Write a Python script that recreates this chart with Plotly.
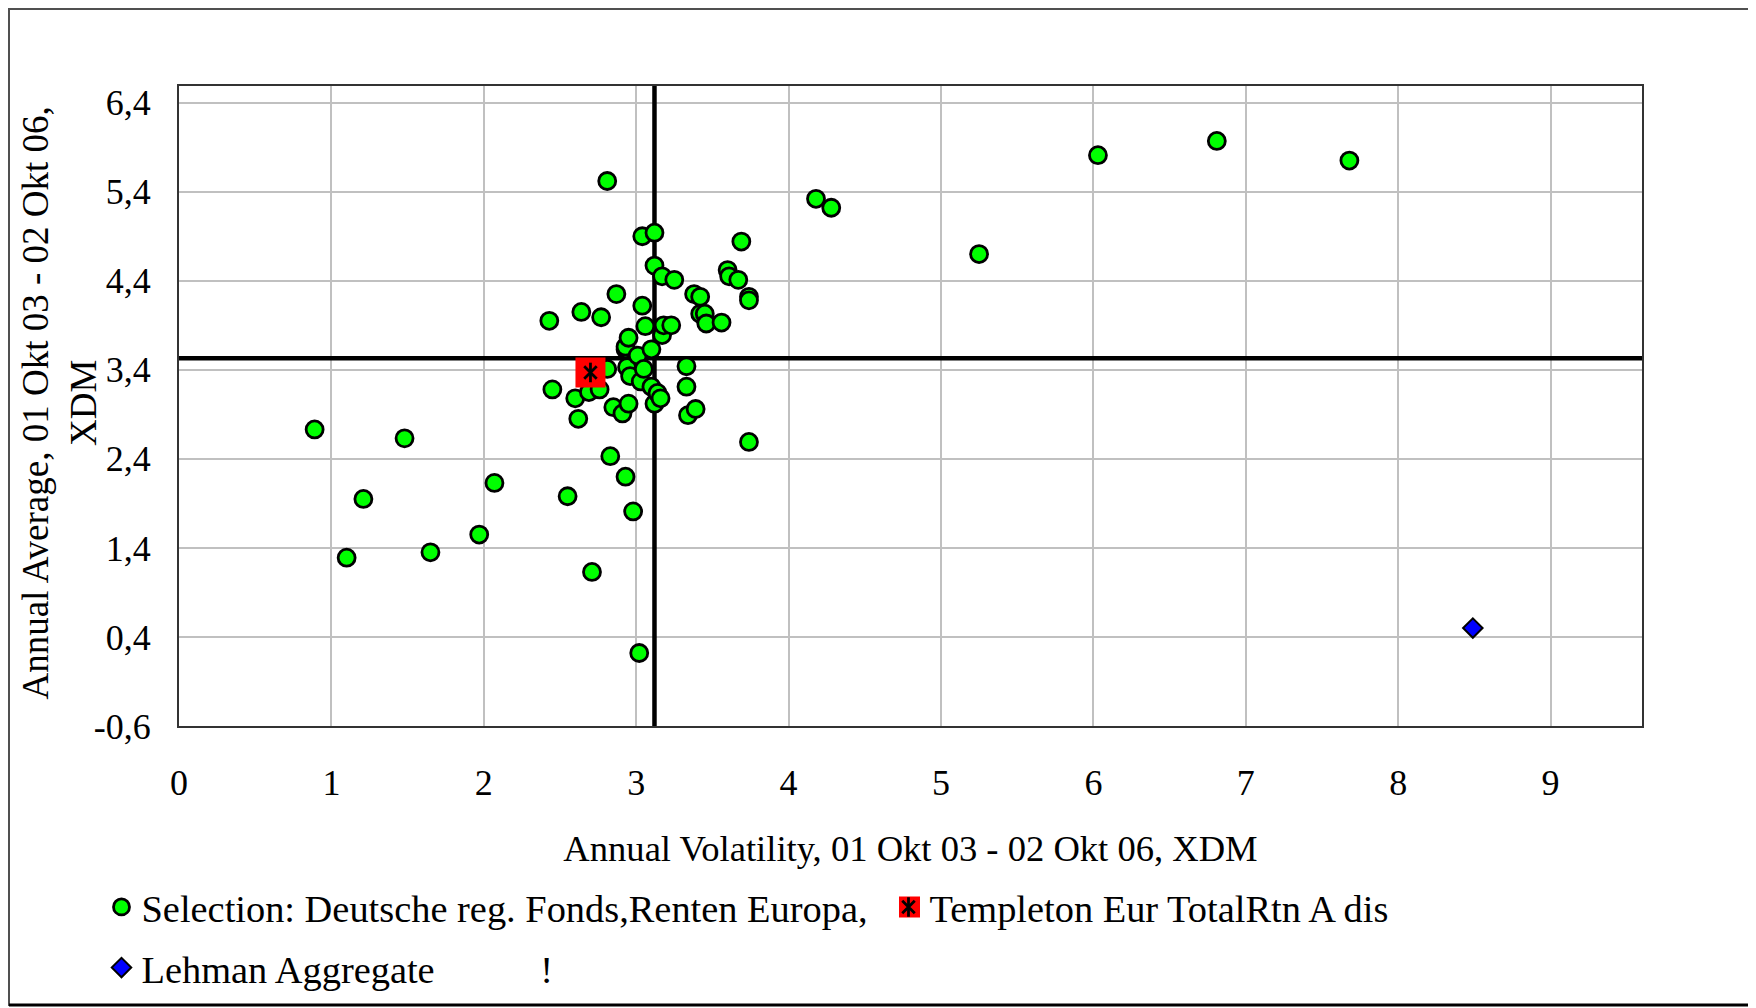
import plotly.graph_objects as go

# ---------------- data ----------------
sel_vol = [0.89, 1.10, 1.21, 1.48, 1.65, 1.97, 2.07, 2.43, 2.45, 2.55,
           2.60, 2.62, 2.64, 2.69, 2.71, 2.76, 2.77, 2.81, 2.81, 2.83,
           2.85, 2.87, 2.91, 2.93, 2.93, 2.93, 2.95, 2.94, 2.95, 2.96,
           2.98, 3.01, 3.02, 3.03, 3.04, 3.04, 3.05, 3.06, 3.10, 3.10,
           3.12, 3.12, 3.12, 3.14, 3.16, 3.17, 3.17, 3.18, 3.23, 3.25,
           3.33, 3.33, 3.34, 3.39, 3.38, 3.42, 3.42, 3.45, 3.46, 3.56,
           3.60, 3.61, 3.67, 3.69, 3.74, 3.74, 3.74, 4.18, 4.28, 5.25,
           6.03, 6.81, 7.68]
sel_avg = [2.73, 1.29, 1.95, 2.63, 1.35, 1.55, 2.13, 3.95, 3.18, 1.98,
           3.08, 2.85, 4.05, 3.15, 1.13, 3.18, 3.99, 3.41, 5.52, 2.43,
           2.98, 4.25, 2.91, 2.20, 3.63, 3.66, 3.76, 3.43, 3.02, 3.33,
           1.81, 3.56, 0.22, 3.27, 4.12, 4.90, 3.41, 3.89, 3.63, 3.21,
           3.02, 4.57, 4.94, 3.14, 3.08, 3.79, 4.45, 3.90, 3.90, 4.41,
           3.44, 3.21, 2.89, 2.96, 4.25, 4.22, 4.03, 4.03, 3.92, 3.93,
           4.52, 4.45, 4.41, 4.84, 4.22, 4.18, 2.59, 5.32, 5.22, 4.70,
           5.81, 5.97, 5.75]

templeton_vol = [2.70]
templeton_avg = [3.37]

lehman_vol = [8.49]
lehman_avg = [0.50]

avg_vol_line = 3.12
avg_ret_line = 3.53

x_range = [0, 9.6]
y_range = [-0.6, 6.587]

x_tickvals = [0, 1, 2, 3, 4, 5, 6, 7, 8, 9]
x_ticktext = ["0", "1", "2", "3", "4", "5", "6", "7", "8", "9"]
y_tickvals = [-0.6, 0.4, 1.4, 2.4, 3.4, 4.4, 5.4, 6.4]
y_ticktext = ["-0,6", "0,4", "1,4", "2,4", "3,4", "4,4", "5,4", "6,4"]

series_names = [
    "Selection: Deutsche reg. Fonds,Renten Europa,",
    "Templeton Eur TotalRtn A dis",
    "Lehman Aggregate" + "\u00a0" * 11 + "!",
]
x_title = "Annual Volatility, 01 Okt 03 - 02 Okt 06, XDM"
y_title = "Annual Average, 01 Okt 03 - 02 Okt 06,<br>XDM"

# ---------------- figure ----------------
FONT = "Liberation Serif, Times New Roman, serif"
FS = 36
LEG_FS = 38.4

W, H = 1756, 1008
ML, MT = 171, 78
PW, PH = 1463, 640
MR, MB = W - ML - PW, H - MT - PH


def px_x(Xf):
    return (Xf - ML) / PW


def px_y(Yf):
    return (MT + PH - Yf) / PH


fig = go.Figure()

# average reference lines (drawn first so markers sit on top)
fig.add_trace(go.Scatter(
    x=x_range, y=[avg_ret_line, avg_ret_line], mode="lines", showlegend=False,
    hoverinfo="skip", line=dict(color="#000000", width=4.5),
))
fig.add_trace(go.Scatter(
    x=[avg_vol_line, avg_vol_line], y=y_range, mode="lines", showlegend=False,
    hoverinfo="skip", line=dict(color="#000000", width=4.5),
))

fig.add_trace(go.Scatter(
    x=sel_vol, y=sel_avg, mode="markers", name=series_names[0], legend="legend",
    marker=dict(symbol="circle", size=17, color="#00FF00",
                line=dict(color="#000000", width=2.8)),
))
fig.add_trace(go.Scatter(
    x=templeton_vol, y=templeton_avg, mode="markers", name=series_names[1],
    legend="legend",
    marker=dict(symbol="square", size=25, color="#FF0000",
                line=dict(color="#FF0000", width=5)),
))
# asterisk drawn on the Templeton square (two strokes: vertical + X)
fig.add_trace(go.Scatter(
    x=templeton_vol, y=templeton_avg, mode="markers", name="",
    legend="legend3", hoverinfo="skip",
    marker=dict(symbol="line-ns-open", size=14, color="#000000",
                line=dict(color="#000000", width=2.8)),
))
fig.add_trace(go.Scatter(
    x=templeton_vol, y=templeton_avg, mode="markers", name="",
    legend="legend4", hoverinfo="skip",
    marker=dict(symbol="x-thin-open", size=12.5, color="#000000",
                line=dict(color="#000000", width=2.8)),
))
fig.add_trace(go.Scatter(
    x=lehman_vol, y=lehman_avg, mode="markers", name=series_names[2],
    legend="legend2",
    marker=dict(symbol="diamond", size=15, color="#0000FF",
                line=dict(color="#000000", width=2)),
))

# outer chart border
fig.add_shape(type="rect", xref="paper", yref="paper",
              x0=px_x(1), x1=px_x(1741), y0=px_y(997), y1=px_y(1),
              line=dict(color="#505050", width=2), layer="above")
fig.add_shape(type="line", xref="paper", yref="paper",
              x0=px_x(1), x1=px_x(1741), y0=px_y(997), y1=px_y(997),
              line=dict(color="#000000", width=3), layer="above")

# y axis title (two centred lines, rotated)
fig.add_annotation(
    text=y_title, xref="paper", yref="paper",
    x=px_x(50.5), y=px_y(395), xanchor="center", yanchor="middle",
    textangle=-90, showarrow=False, align="center",
    font=dict(family=FONT, size=37, color="#000000"),
)

axis_common = dict(
    showgrid=True, gridcolor="#C0C0C0", gridwidth=2,
    showline=True, mirror=True, linecolor="#333333", linewidth=2,
    zeroline=False, ticks="",
    tickfont=dict(family=FONT, size=FS, color="#000000"),
    automargin=False,
)

fig.update_xaxes(
    range=x_range, tickmode="array", tickvals=x_tickvals, ticktext=x_ticktext,
    ticklabelstandoff=24,
    title=dict(text=x_title, font=dict(family=FONT, size=36.6, color="#000000"),
               standoff=33),
    **axis_common,
)
fig.update_yaxes(
    range=y_range, tickmode="array", tickvals=y_tickvals, ticktext=y_ticktext,
    ticklabelstandoff=19,
    **axis_common,
)

legend_common = dict(
    orientation="h", xanchor="left", yanchor="middle",
    font=dict(family=FONT, size=LEG_FS, color="#000000"),
    bgcolor="rgba(0,0,0,0)", borderwidth=0, itemsizing="trace",
    traceorder="normal",
)

LEG_X = 93.5          # left edge of legend box (figure px)
ROW1_Y, ROW2_Y = 899, 959.6
ENTRY_W = 743
ENTRY_PITCH = 787     # distance between symbol centres in row 1

fig.update_layout(
    width=W, height=H,
    margin=dict(l=ML, r=MR, t=MT, b=MB, pad=0),
    paper_bgcolor="#FFFFFF", plot_bgcolor="#FFFFFF",
    font=dict(family=FONT, size=FS, color="#000000"),
    showlegend=True,
    legend=dict(x=px_x(LEG_X), y=px_y(ROW1_Y), entrywidth=ENTRY_W,
                entrywidthmode="pixels", **legend_common),
    legend2=dict(x=px_x(LEG_X), y=px_y(ROW2_Y), **legend_common),
    legend3=dict(x=px_x(LEG_X + ENTRY_PITCH), y=px_y(ROW1_Y), **legend_common),
    legend4=dict(x=px_x(LEG_X + ENTRY_PITCH), y=px_y(ROW1_Y), **legend_common),
)

fig.write_html("out.html")
